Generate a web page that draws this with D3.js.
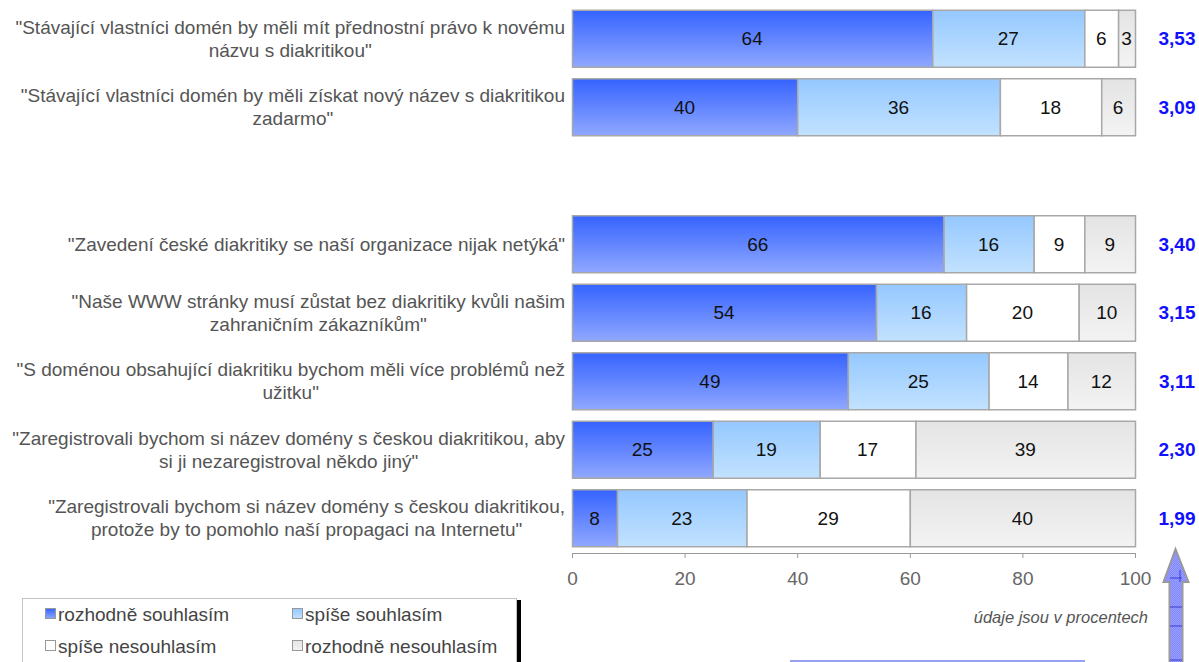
<!DOCTYPE html>
<html><head><meta charset="utf-8">
<script src="https://cdn.jsdelivr.net/npm/d3@7"></script>
<style>
html,body{margin:0;padding:0;background:#fff;overflow:hidden}
svg{display:block;font-family:"Liberation Sans",Arial,sans-serif}
</style></head>
<body>
<svg id="chart" width="1199" height="662"></svg>
<script>
const categories = [
  ['"Stávající vlastníci domén by měli mít přednostní právo k novému', 'názvu s diakritikou"'],
  ['"Stávající vlastníci domén by měli získat nový název s diakritikou', 'zadarmo"'],
  [],
  ['"Zavedení české diakritiky se naší organizace nijak netýká"'],
  ['"Naše WWW stránky musí zůstat bez diakritiky kvůli našim', 'zahraničním zákazníkům"'],
  ['"S doménou obsahující diakritiku bychom měli více problémů než', 'užitku"'],
  ['"Zaregistrovali bychom si název domény s českou diakritikou, aby', 'si ji nezaregistroval někdo jiný"'],
  ['"Zaregistrovali bychom si název domény s českou diakritikou,', 'protože by to pomohlo naší propagaci na Internetu"']
];
const seriesNames = ['rozhodně souhlasím', 'spíše souhlasím', 'spíše nesouhlasím', 'rozhodně nesouhlasím'];
const rozhodneSouhlasim   = [64, 40, null, 66, 54, 49, 25, 8];
const spiseSouhlasim      = [27, 36, null, 16, 16, 25, 19, 23];
const spiseNesouhlasim    = [6, 18, null, 9, 20, 14, 17, 29];
const rozhodneNesouhlasim = [3, 6, null, 9, 10, 12, 39, 40];
const averages = ['3,53', '3,09', '', '3,40', '3,15', '3,11', '2,30', '1,99'];
const xTicks = [0, 20, 40, 60, 80, 100];
const note = 'údaje jsou v procentech';

const series = [rozhodneSouhlasim, spiseSouhlasim, spiseNesouhlasim, rozhodneNesouhlasim];
const FS = 19;

const svg = d3.select('#chart');
const defs = svg.append('defs');
const grads = [
  ['g0', '#3563ff', '#90a8ff'],
  ['g1', '#95c8ff', '#c2e2ff'],
  ['g2', '#ffffff', '#ffffff'],
  ['g3', '#e4e4e4', '#f3f3f3']
];
grads.forEach(([id, a, b]) => {
  const g = defs.append('linearGradient').attr('id', id).attr('x1', 0).attr('y1', 0).attr('x2', 0).attr('y2', 1);
  g.append('stop').attr('offset', '0%').attr('stop-color', a);
  g.append('stop').attr('offset', '100%').attr('stop-color', b);
});
const pat = defs.append('pattern').attr('id', 'dither').attr('width', 2).attr('height', 2).attr('patternUnits', 'userSpaceOnUse');
pat.append('rect').attr('width', 2).attr('height', 2).attr('fill', '#7f86ff');
pat.append('rect').attr('width', 1).attr('height', 1).attr('fill', '#9aa0ff');
pat.append('rect').attr('x', 1).attr('y', 1).attr('width', 1).attr('height', 1).attr('fill', '#9aa0ff');

const x = d3.scaleLinear().domain([0, 100]).range([572, 1135]);
const y = d3.scaleBand().domain(d3.range(categories.length)).range([4, 552])
  .paddingInner(0.168).paddingOuter(0.084);

// bars
const stacked = categories.map((c, i) => {
  let acc = 0;
  return series.map((s, k) => {
    const v = s[i];
    const seg = {i, k, v, x0: acc, x1: acc + (v || 0)};
    acc += (v || 0);
    return seg;
  });
}).flat().filter(d => d.v != null);

const bars = svg.append('g');
bars.selectAll('rect').data(stacked).join('rect')
  .attr('x', d => x(d.x0) + 0.5)
  .attr('y', d => y(d.i) + 0.5)
  .attr('width', d => x(d.x1) - x(d.x0))
  .attr('height', y.bandwidth())
  .attr('fill', d => `url(#g${d.k})`)
  .attr('stroke', '#a8a8a8')
  .attr('stroke-width', 1.5);

bars.selectAll('text').data(stacked).join('text')
  .attr('x', d => x((d.x0 + d.x1) / 2))
  .attr('y', d => y(d.i) + y.bandwidth() / 2)
  .attr('dy', '0.36em')
  .attr('text-anchor', 'middle')
  .attr('font-size', FS)
  .attr('fill', '#111')
  .text(d => d.v);

// category labels (block right-aligned, lines centered)
const labG = svg.append('g').attr('font-size', FS).attr('fill', '#555');
categories.forEach((lines, i) => {
  if (!lines.length) return;
  const cy = y(i) + y.bandwidth() / 2;
  const t = labG.append('text').attr('text-anchor', 'middle');
  const spans = lines.map((l, j) => t.append('tspan').text(l));
  const widths = spans.map(s => s.node().getComputedTextLength());
  const maxW = d3.max(widths);
  const cx = 565 - maxW / 2;
  const n = lines.length;
  spans.forEach((s, j) => {
    s.attr('x', cx).attr('y', cy + (j - (n - 1) / 2) * 23).attr('dy', '0.36em');
  });
});

// averages
svg.append('g').selectAll('text').data(averages).join('text')
  .attr('x', 1177)
  .attr('y', (d, i) => y(i) + y.bandwidth() / 2)
  .attr('dy', '0.36em')
  .attr('text-anchor', 'middle')
  .attr('font-size', FS)
  .attr('font-weight', 'bold')
  .attr('fill', '#1010ff')
  .text(d => d);

// x axis
const ax = svg.append('g').attr('transform', 'translate(0,553)')
  .call(d3.axisBottom(x).tickValues(xTicks).tickSize(5).tickSizeOuter(5));
ax.select('.domain').attr('stroke', '#999');
ax.selectAll('.tick line').attr('stroke', '#999');
ax.selectAll('.tick text').attr('font-size', FS).attr('fill', '#666')
  .attr('font-family', '"Liberation Sans",Arial,sans-serif').attr('y', 25).attr('dy', '0.36em');

svg.append('text').attr('x', 1148).attr('y', 617).attr('dy', '0.36em')
  .attr('text-anchor', 'end').attr('font-size', 16.5).attr('font-style', 'italic')
  .attr('fill', '#555').text(note);

// arrow
const arrow = svg.append('g');
arrow.append('path')
  .attr('d', 'M1175.5,549 L1188.5,582 L1182.5,582 L1182.5,680 L1169.5,680 L1169.5,582 L1163.5,582 Z')
  .attr('fill', 'url(#dither)').attr('stroke', '#999').attr('stroke-width', 2);
[578, 607, 626, 660].forEach(yy => {
  arrow.append('line').attr('x1', 1170).attr('x2', 1182).attr('y1', yy).attr('y2', yy)
    .attr('stroke', '#3c3ccc').attr('stroke-width', 1);
});
arrow.append('line').attr('x1', 1180).attr('x2', 1180).attr('y1', 570).attr('y2', 582)
  .attr('stroke', '#3c3ccc').attr('stroke-width', 1);

// bottom line
svg.append('line').attr('x1', 790).attr('x2', 1085).attr('y1', 661).attr('y2', 661)
  .attr('stroke', '#7680ee').attr('stroke-width', 1.5);

// legend
const lg = svg.append('g');
lg.append('rect').attr('x', 22.5).attr('y', 598.5).attr('width', 494).attr('height', 90)
  .attr('fill', '#fff').attr('stroke', '#c4c4c4');
lg.append('rect').attr('x', 517).attr('y', 600).attr('width', 4).attr('height', 70).attr('fill', '#000');
const legPos = [[45, 614], [292, 614], [45, 646], [292, 646]];
seriesNames.forEach((name, k) => {
  const [lx, ly] = legPos[k];
  lg.append('rect').attr('x', lx + 0.5).attr('y', ly - 5.5).attr('width', 10).attr('height', 10)
    .attr('fill', `url(#g${k})`).attr('stroke', '#999');
  lg.append('text').attr('x', lx + 13).attr('y', ly).attr('dy', '0.36em')
    .attr('font-size', FS).attr('fill', '#444').text(name);
});
</script>
</body></html>
